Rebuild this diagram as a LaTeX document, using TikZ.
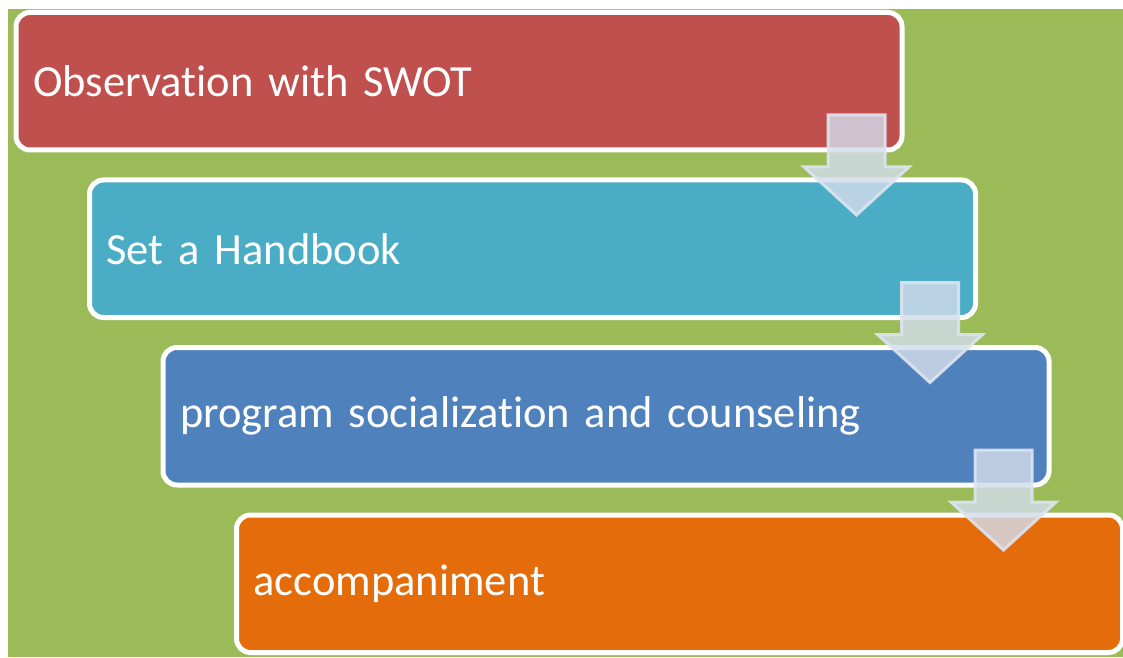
\documentclass[tikz,border=0pt]{standalone}
\usepackage{fontspec}
\setmainfont[Ligatures=NoCommon]{Carlito}
\usetikzlibrary{calc}

\definecolor{bggreen}{HTML}{9BBB59}
\definecolor{stagered}{HTML}{C0504D}
\definecolor{stageteal}{HTML}{4BACC6}
\definecolor{stageblue}{HTML}{4F81BD}
\definecolor{stageorange}{HTML}{E46C0A}
\definecolor{arrowfill}{HTML}{D3DCEB}
\definecolor{arrowline}{HTML}{DDE4F0}

\begin{document}
\begin{tikzpicture}[x=1pt, y=1pt,
    stage/.style={draw=white, line width=5pt, rounded corners=14pt, outer sep=0pt,
        minimum width=886pt, minimum height=137.5pt, text width=852pt, inner xsep=17pt,
        align=left, text=white, font=\fontsize{44.5}{52}\selectfont},
    downarrow/.style={fill=arrowfill, fill opacity=0.82, draw=arrowline, draw opacity=0.9,
        line width=3pt, line join=miter}]
    \useasboundingbox (0,0) rectangle (1123,657);

    % Draw background
    \fill[bggreen] (8,0) rectangle (1123,648);

    % Draw stages
    \node[stage, fill=stagered] (swot) at (459,575.75) {Observation with SWOT};
    \node[stage, fill=stageteal] (handbook) at (532.5,408.25) {Set a Handbook};
    \node[stage, fill=stageblue] (socialization) at (606,240.75) {program socialization and counseling};
    \node[stage, fill=stageorange] (accompaniment) at (679.5,73.25) {accompaniment};

    % Draw arrows between stages
    \foreach \a/\b in {swot/handbook, handbook/socialization, socialization/accompaniment} {
        \coordinate (top) at ($(\a.south east)+(-45.5,35)$);
        \coordinate (tip) at ($(\b.north east)+(-119,-35)$);
        \draw[downarrow] ($(top)+(-28.5,0)$) -- ($(top)+(28.5,0)$)
            -- ($(top)+(28.5,-52)$) -- ($(top)+(52.5,-52)$) -- (tip)
            -- ($(top)+(-52.5,-52)$) -- ($(top)+(-28.5,-52)$) -- cycle;
    }
\end{tikzpicture}
\end{document}
